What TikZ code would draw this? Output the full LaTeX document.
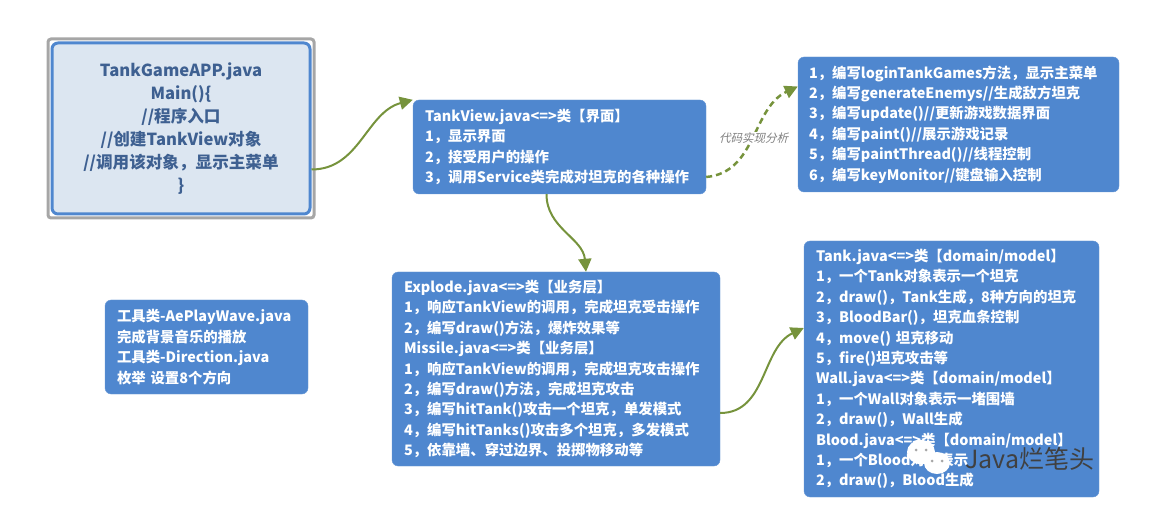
\documentclass[tikz,border=0pt]{standalone}
\usepackage{fontspec}
\setmainfont{Noto Sans CJK SC}
\newfontfamily\slantcjk[FakeSlant=0.25]{Noto Sans CJK SC}
\usepackage{tikz}
\usetikzlibrary{shapes,arrows.meta,positioning,calc}
\usepackage{xcolor}
\definecolor{boxblue}{RGB}{79,135,207}
\definecolor{mainfill}{RGB}{220,230,241}
\definecolor{maintext}{RGB}{62,96,145}
\definecolor{flowgreen}{RGB}{118,147,60}
\tikzset{
    bluebox/.style={draw=boxblue!85!white, fill=boxblue, rounded corners=6pt, text=white, align=left, inner xsep=0pt, inner ysep=0pt,
        font=\bfseries\fontsize{14.4}{20.4}\selectfont},
    flow/.style={draw=flowgreen, line width=2pt, -{Triangle[length=13pt,width=13pt]}},
}
\begin{document}
\begin{tikzpicture}[x=1pt, y=-1pt]
    \useasboundingbox (0,0) rectangle (1174,518);
    \draw[gray!70, fill=white, line width=3pt, rounded corners=3pt] (48,39) rectangle (314,218);
    \node[draw=boxblue, fill=mainfill, line width=3pt, rounded corners=6pt, text=maintext, align=center,
        minimum width=258pt, minimum height=171pt, inner sep=0pt,
        font=\bfseries\fontsize{16.6}{23}\selectfont] (main) at (181,128.5)
        {TankGameAPP.java\\Main()\{\\//程序入口\\//创建TankView对象\\//调用该对象，显示主菜单\\\}};
    \node[bluebox, minimum width=293pt, minimum height=94pt, text width=269pt] (view) at (559.5,147)
        {TankView.java<=>类【界面】\\1，显示界面\\2，接受用户的操作\\3，调用Service类完成对坦克的各种操作};
    \node[bluebox, minimum width=321pt, minimum height=135pt, text width=299pt] (methods) at (958.5,124.5)
        {1，编写loginTankGames方法，显示主菜单\\2，编写generateEnemys//生成敌方坦克\\3，编写update()//更新游戏数据界面\\4，编写paint()//展示游戏记录\\5，编写paintThread()//线程控制\\6，编写keyMonitor//键盘输入控制};
    \node[bluebox, minimum width=328pt, minimum height=194pt, text width=304pt] (explode) at (556,369)
        {Explode.java<=>类【业务层】\\1，响应TankView的调用，完成坦克受击操作\\2，编写draw()方法，爆炸效果等\\Missile.java<=>类【业务层】\\1，响应TankView的调用，完成坦克攻击操作\\2，编写draw()方法，完成坦克攻击\\3，编写hitTank()攻击一个坦克，单发模式\\4，编写hitTanks()攻击多个坦克，多发模式\\5，依靠墙、穿过边界、投掷物移动等};
    \node[bluebox, minimum width=295pt, minimum height=256pt, text width=271pt] (tank) at (951.5,369)
        {Tank.java<=>类【domain/model】\\1，一个Tank对象表示一个坦克\\2，draw()，Tank生成，8种方向的坦克\\3，BloodBar()，坦克血条控制\\4，move() 坦克移动\\5，fire()坦克攻击等\\Wall.java<=>类【domain/model】\\1，一个Wall对象表示一堵围墙\\2，draw()，Wall生成\\Blood.java<=>类【domain/model】\\1，一个Blood对象表示\\2，draw()，Blood生成};
    \node[bluebox, minimum width=203pt, minimum height=94pt, text width=179pt] (tools) at (206.5,347)
        {工具类-AePlayWave.java\\完成背景音乐的播放\\工具类-Direction.java\\枚举 设置8个方向};
    \draw[flow] ([yshift=-41pt]main.east) to[out=0, in=195] (view.north west);
    \draw[flow] ([xshift=-13pt]view.south) to[out=-90, in=95] ([xshift=30pt]explode.north);
    \draw[flow] ([yshift=-44pt]explode.east) to[out=0, in=205] ([yshift=41pt]tank.west);
    \draw[flow, line width=2.5pt, dash pattern=on 6pt off 4pt] ([yshift=-30pt]view.east) to[out=5, in=205]
        node[pos=0.5, fill=white, inner sep=1pt, text=gray, font=\slantcjk\fontsize{11.5}{13}\selectfont] (analysis) {代码实现分析}
        ([yshift=38pt]methods.west);
    \fill[white] (921,452) ellipse (14pt and 12pt);
    \fill[white] (937,463) ellipse (13pt and 11pt);
    \fill[gray!70] (916,450) circle (1.5pt) (926,450) circle (1.5pt) (932,461) circle (1.5pt) (942,461) circle (1.5pt);
    \node[text=black!75, inner sep=0pt, font=\fontsize{25}{27}\selectfont] (mark) at (1030,459) {Java烂笔头};
\end{tikzpicture}
\end{document}
